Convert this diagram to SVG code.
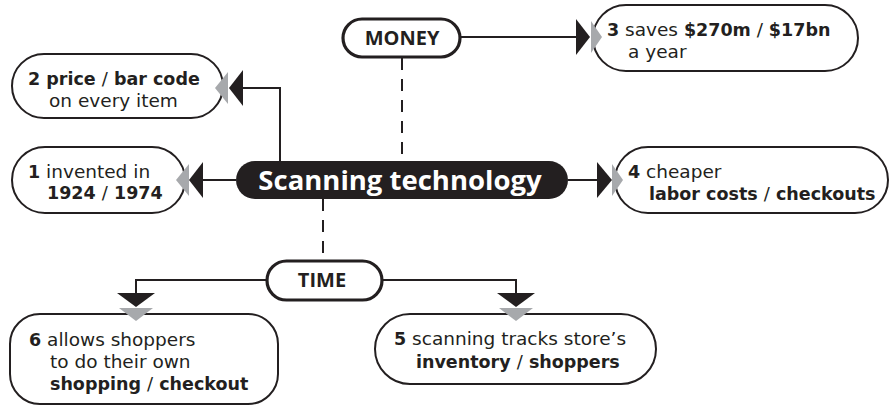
<svg xmlns="http://www.w3.org/2000/svg" width="892" height="407" viewBox="0 0 892 407">
<style>
.node{fill:#fff;stroke:#231f20;stroke-width:2}
.hub{fill:#fff;stroke:#231f20;stroke-width:3.2}
.t{font-family:"DejaVu Sans","Open Sans",sans-serif;font-size:18.5px;fill:#231f20}
.b{font-weight:bold;font-size:17.5px}
.r{font-weight:normal;font-size:18px}
.ht{font-family:"Open Sans","Liberation Sans",sans-serif;font-size:20px;font-weight:bold;fill:#231f20}
.line{fill:none;stroke:#231f20;stroke-width:2}
.dash{fill:none;stroke:#231f20;stroke-width:2;stroke-dasharray:12 9}
.ah{fill:#231f20}
.ag{fill:#a7a9ac}
</style>
<rect width="892" height="407" fill="#fff"/>
<g id="center">
<rect x="236" y="161" width="332" height="38" rx="19" fill="#231f20"/>
<text x="400" y="189.5" text-anchor="middle" font-family="Open Sans, Liberation Sans, sans-serif" font-size="27.5" font-weight="bold" fill="#fff">Scanning technology</text>
</g>
<g id="money">
<rect class="hub" x="343" y="19" width="117" height="38" rx="19"/>
<text class="ht" x="402" y="45" text-anchor="middle">MONEY</text>
</g>
<g id="time">
<rect class="hub" x="267" y="261" width="115" height="39" rx="19.5"/>
<text class="ht" x="322" y="287" text-anchor="middle">TIME</text>
</g>
<g id="node1">
<rect class="node" x="12" y="147" width="173" height="66" rx="33"/>
<text class="t" x="28" y="178"><tspan class="b">1</tspan> invented in</text>
<text class="t b" x="47" y="199">1924 <tspan class="r">/</tspan> 1974</text>
</g>
<g id="node2">
<rect class="node" x="12" y="54" width="211" height="64" rx="32"/>
<text class="t b" x="28" y="85">2 price <tspan class="r">/</tspan> bar code</text>
<text class="t" x="49" y="107">on every item</text>
</g>
<g id="node3">
<rect class="node" x="593" y="5" width="265" height="66" rx="33"/>
<text class="t" x="607" y="36"><tspan class="b">3</tspan> saves <tspan class="b">$270m</tspan> / <tspan class="b">$17bn</tspan></text>
<text class="t" x="628" y="58">a year</text>
</g>
<g id="node4">
<rect class="node" x="615" y="147" width="273" height="66" rx="33"/>
<text class="t" x="628" y="178"><tspan class="b">4</tspan> cheaper</text>
<text class="t b" x="649" y="200">labor costs <tspan class="r">/</tspan> checkouts</text>
</g>
<g id="node5">
<rect class="node" x="375" y="314" width="281" height="70" rx="35"/>
<text class="t" x="394" y="345"><tspan class="b">5</tspan> scanning tracks store’s</text>
<text class="t b" x="416" y="368">inventory <tspan class="r">/</tspan> shoppers</text>
</g>
<g id="node6">
<rect class="node" x="10" y="314" width="268" height="90" rx="30"/>
<text class="t" x="29" y="346"><tspan class="b">6</tspan> allows shoppers</text>
<text class="t" x="50" y="368">to do their own</text>
<text class="t b" x="50" y="390">shopping <tspan class="r">/</tspan> checkout</text>
</g>
<g id="connectors">
<path class="dash" d="M402 58 V161"/>
<path class="dash" d="M323 199 V261"/>
<path class="line" d="M461 37 H578"/>
<path class="line" d="M280 161 V88 H243"/>
<path class="line" d="M236 180 H203"/>
<path class="line" d="M568 180 H598"/>
<path class="line" d="M383 280 H516 V293"/>
<path class="line" d="M266 280 H136 V293"/>
<polygon class="ah" points="576,19 576,55 590,37"/>
<polygon class="ag" points="591,21 591,53 602,37"/>
<polygon class="ah" points="243,70 243,106 229,88"/>
<polygon class="ag" points="228,72 228,104 215,88"/>
<polygon class="ah" points="203,162 203,198 189,180"/>
<polygon class="ag" points="189,164 189,196 176,180"/>
<polygon class="ah" points="597,162 597,198 612,180"/>
<polygon class="ag" points="612,164 612,196 623,180"/>
<polygon class="ah" points="497,293 535,293 516,307"/>
<polygon class="ag" points="499,308 533,308 516,321"/>
<polygon class="ah" points="117,293 155,293 136,307"/>
<polygon class="ag" points="119,308 153,308 136,321"/>
</g>
</svg>
